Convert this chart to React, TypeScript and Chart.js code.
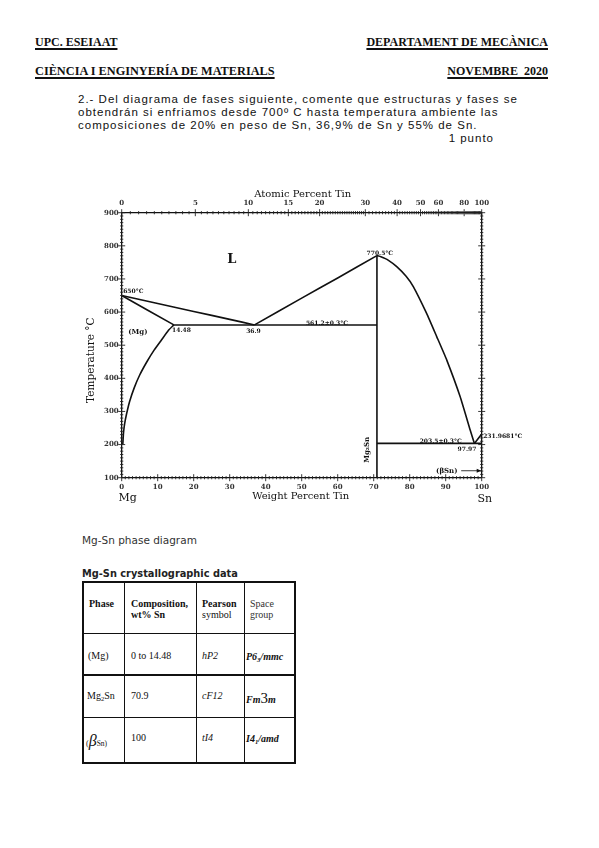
import React, { useEffect, useRef } from "react";
import { Chart, registerables } from "chart.js";
Chart.register(...registerables);

// ---------- data ----------
const MG_MASS = 24.305;
const SN_MASS = 118.71;

const wtPercentTicks = [0, 10, 20, 30, 40, 50, 60, 70, 80, 90, 100];
const temperatureTicks = [100, 200, 300, 400, 500, 600, 700, 800, 900];
const atomicPercentTicks = [0, 5, 10, 15, 20, 30, 40, 50, 60, 80, 100];

// curves: [wt% Sn, °C]
const liquidusMgSide = [[0, 650], [10, 626], [20, 602], [30, 578], [36.9, 561.2]];
const solidusMg = [[0, 650], [14.48, 561.2]];
const solvusMg = [[14.48, 561.2], [13, 545], [11, 515], [9, 485], [7, 450], [5, 410], [3.5, 372], [2.2, 330], [1.3, 290], [0.8, 262], [0.5, 235], [0.3, 200]];
const eutecticMg = [[14.48, 561.2], [70.9, 561.2]];
const liquidusMg2SnLeft = [[36.9, 561.2], [50, 642], [60, 703], [70.9, 770.5]];
const liquidusMg2SnRight = [[70.9, 770.5], [72, 767], [74, 757], [76.4, 737], [79, 708], [81, 677], [84.7, 596], [87.5, 526], [90.3, 455], [94, 345], [96.8, 244], [97.97, 203.5]];
const liquidusSn = [[97.97, 203.5], [100, 231.97]];
const mg2SnLine = [[70.9, 770.5], [70.9, 100]];
const eutecticSn = [[70.9, 203.5], [100, 203.5]];

const curves = [liquidusMgSide, solidusMg, solvusMg, eutecticMg, liquidusMg2SnLeft, liquidusMg2SnRight, liquidusSn, mg2SnLine, eutecticSn];

// labels placed in data coordinates
const labelTexts = ["L", "650°C", "(Mg)", "14.48", "36.9", "561.2±0.3°C", "770.5°C", "203.5±0.3°C", "97.97", "231.9681°C", "(βSn)"];
const labelWt = [30.6, 0.4, 4.5, 16.6, 36.6, 57, 71.7, 88.6, 95.9, 100.4, 90.3];
const labelTemp = [757, 661, 538, 544, 541, 567, 778, 210, 184, 226, 121];

const atToWt = (a: number) => (a * SN_MASS) / (a * SN_MASS + (100 - a) * MG_MASS) * 100;

const decorPlugin = {
  id: "phaseDecor",
  afterDraw(chart: any) {
    const { ctx, chartArea: a, scales } = chart;
    const px = (v: number) => scales.x.getPixelForValue(v);
    const py = (v: number) => scales.y.getPixelForValue(v);
    ctx.save();
    ctx.strokeStyle = "#222";
    ctx.lineWidth = 0.9;
    ctx.beginPath();
    for (let t = 100; t <= 900; t += 10) {
      const yy = py(t);
      const l = t % 100 === 0 ? 3.5 : 1.6;
      ctx.moveTo(a.left - l, yy); ctx.lineTo(a.left + l, yy);
      ctx.moveTo(a.right - l, yy); ctx.lineTo(a.right + l, yy);
    }
    for (let w = 0; w <= 100; w += 1) {
      const xx = px(w);
      const l = w % 10 === 0 ? 3.5 : 1.6;
      ctx.moveTo(xx, a.bottom - l); ctx.lineTo(xx, a.bottom + l);
    }
    for (let at = 0; at <= 100; at += at < 30 ? 0.5 : 1) {
      const xx = px(atToWt(at));
      const major = atomicPercentTicks.includes(at);
      const l = major ? 3.5 : 1.6;
      ctx.moveTo(xx, a.top - l); ctx.lineTo(xx, a.top + l);
    }
    ctx.stroke();

    ctx.fillStyle = "#111";
    ctx.textBaseline = "middle";
    labelTexts.forEach((t, i) => {
      const big = t === "L";
      ctx.font = big ? "bold 13px 'DejaVu Serif'" : (t === "(Mg)" || t === "(βSn)") ? "bold 7px 'DejaVu Serif'" : "bold 6px 'DejaVu Serif'";
      ctx.textAlign = t === "231.9681°C" || t === "650°C" ? "left" : "center";
      ctx.fillText(t, px(labelWt[i]), py(labelTemp[i]));
    });

    // Mg2Sn rotated
    ctx.save();
    ctx.translate(px(68.1), py(184));
    ctx.rotate(-Math.PI / 2);
    ctx.font = "bold 7px 'DejaVu Serif'";
    ctx.textAlign = "center";
    ctx.fillText("Mg₂Sn", 0, 0);
    ctx.restore();

    // arrow for (βSn)
    const ay = py(121);
    ctx.beginPath();
    ctx.moveTo(px(94.3), ay); ctx.lineTo(a.right - 1, ay);
    ctx.stroke();
    ctx.beginPath();
    ctx.moveTo(a.right - 0.5, ay); ctx.lineTo(a.right - 5, ay - 2); ctx.lineTo(a.right - 5, ay + 2); ctx.closePath();
    ctx.fill();

    // axis titles
    ctx.font = "10px 'DejaVu Serif'";
    ctx.textAlign = "center";
    ctx.fillText("Atomic Percent Tin", (a.left + a.right) / 2 + 1, a.top - 18);
    ctx.fillText("Weight Percent Tin", (a.left + a.right) / 2 - 1, a.bottom + 18.5);
    ctx.font = "11px 'DejaVu Serif'";
    ctx.fillText("Mg", a.left + 6, a.bottom + 20);
    ctx.fillText("Sn", a.right + 3, a.bottom + 21);
    ctx.save();
    ctx.translate(a.left - 30, (a.top + a.bottom) / 2 + 15);
    ctx.rotate(-Math.PI / 2);
    ctx.font = "10.5px 'DejaVu Serif'";
    ctx.fillText("Temperature °C", 0, 0);
    ctx.restore();
    ctx.restore();
  },
};

function PhaseChart() {
  const ref = useRef<HTMLCanvasElement>(null);
  useEffect(() => {
    if (!ref.current) return;
    const tickFont = { family: "'DejaVu Serif'", size: 7, weight: "bold" as const };
    const chart = new Chart(ref.current, {
      type: "scatter",
      data: {
        datasets: curves.map((c) => ({
          data: c.map(([x, y]) => ({ x, y })),
          showLine: true,
          pointRadius: 0,
          borderColor: "#111",
          borderWidth: 1.6,
          tension: 0.15,
        })),
      },
      options: {
        responsive: false,
        animation: false,
        layout: { padding: 0 },
        plugins: { legend: { display: false }, tooltip: { enabled: false } },
        scales: {
          x: {
            type: "linear", position: "bottom", min: 0, max: 100,
            afterBuildTicks: (s: any) => { s.ticks = wtPercentTicks.map((v) => ({ value: v })); },
            afterFit: (s: any) => { s.height = 42.3; },
            ticks: { font: tickFont, color: "#333", padding: 5, maxRotation: 0, autoSkip: false },
            grid: { display: true, drawOnChartArea: false, drawTicks: false },
            border: { display: true, color: "#111", width: 1.3 },
          },
          x2: {
            type: "linear", position: "top", min: 0, max: 100,
            afterBuildTicks: (s: any) => { s.ticks = atomicPercentTicks.map((a) => ({ value: atToWt(a) })); },
            afterFit: (s: any) => { s.height = 42.7; },
            ticks: { font: tickFont, color: "#333", padding: 5, maxRotation: 0, autoSkip: false, callback: (_v: any, i: number) => String(atomicPercentTicks[i]) },
            grid: { display: true, drawOnChartArea: false, drawTicks: false },
            border: { display: true, color: "#111", width: 1.3 },
          },
          y: {
            type: "linear", position: "left", min: 100, max: 900,
            afterBuildTicks: (s: any) => { s.ticks = temperatureTicks.map((v) => ({ value: v })); },
            afterFit: (s: any) => { s.width = 81.7; },
            ticks: { font: tickFont, color: "#333", padding: 3 },
            grid: { display: true, drawOnChartArea: false, drawTicks: false },
            border: { display: true, color: "#111", width: 1.3 },
          },
          y2: {
            type: "linear", position: "right", min: 100, max: 900,
            afterFit: (s: any) => { s.width = 98.3; },
            ticks: { display: false },
            grid: { display: true, drawOnChartArea: false, drawTicks: false },
            border: { display: true, color: "#111", width: 1.3 },
          },
        },
      },
      plugins: [decorPlugin],
    } as any);
    return () => chart.destroy();
  }, []);
  return <canvas ref={ref} width={540} height={350} style={{ position: "absolute", left: 40, top: 170, width: 540, height: 350 }} />;
}

type TP = { x: number; y: number; size: number; family?: string; bold?: boolean; italic?: boolean; right?: boolean; color?: string; ls?: number; underline?: boolean; children: React.ReactNode };
function T({ x, y, size, family = "'Liberation Serif'", bold, italic, right, color = "#111", ls = 0, underline, children }: TP) {
  const lh = size * 1.3;
  const style: React.CSSProperties = {
    position: "absolute", top: y - lh / 2, lineHeight: lh + "px", fontSize: size, fontFamily: family,
    fontWeight: bold ? 700 : 400, fontStyle: italic ? "italic" : "normal", color, whiteSpace: "pre", letterSpacing: ls,
    textDecoration: underline ? "underline" : "none", textDecorationThickness: underline ? "1.5px" : undefined, textUnderlineOffset: underline ? "2px" : undefined,
  };
  if (right) style.right = 599 - x; else style.left = x;
  return <div style={style}>{children}</div>;
}

const tableXs = [83.3, 124.3, 196.7, 244.3, 295];
const tableYs = [582, 633.3, 675, 717.3, 763];

function Table() {
  const lines: React.ReactNode[] = [];
  tableXs.forEach((x, i) => {
    const w = i === 0 || i === tableXs.length - 1 ? 2 : 1.5;
    lines.push(<div key={"v" + i} style={{ position: "absolute", left: x - w / 2, top: tableYs[0] - 1, width: w, height: tableYs[4] - tableYs[0] + 2, background: "#111" }} />);
  });
  tableYs.forEach((y, i) => {
    const w = i === 0 || i === tableYs.length - 1 ? 2 : 1.5;
    lines.push(<div key={"h" + i} style={{ position: "absolute", top: y - w / 2, left: tableXs[0] - 1, height: w, width: tableXs[4] - tableXs[0] + 2, background: "#111" }} />);
  });
  const sub = (s: string) => <span style={{ fontSize: "0.65em", verticalAlign: "-0.25em" }}>{s}</span>;
  return (
    <>
      {lines}
      <T x={89} y={603} size={10} bold>Phase</T>
      <T x={131} y={603} size={10} bold>Composition,</T>
      <T x={131} y={614} size={10} bold>wt% Sn</T>
      <T x={202} y={603} size={10} bold>Pearson</T>
      <T x={202} y={614} size={10}>symbol</T>
      <T x={250} y={603} size={10} color="#333">Space</T>
      <T x={250} y={614} size={10} color="#333">group</T>

      <T x={88} y={655} size={10}>(Mg)</T>
      <T x={131} y={655} size={10}>0 to 14.48</T>
      <T x={202} y={655} size={10} italic>hP2</T>
      <T x={246} y={656} size={10} bold italic>P6{sub("3")}/mmc</T>

      <T x={87} y={695} size={10}>Mg{sub("2")}Sn</T>
      <T x={131} y={695} size={10}>70.9</T>
      <T x={202} y={695} size={10} italic>cF12</T>
      <T x={246} y={698} size={10} bold italic>Fm<span style={{ fontSize: 15, fontStyle: "normal", fontWeight: 400 }}>3</span>m</T>

      <T x={86} y={740} size={10}><span style={{ fontSize: 8 }}>(</span><span style={{ fontSize: 16, fontStyle: "italic" }}>β</span><span style={{ fontSize: 7.5 }}>Sn)</span></T>
      <T x={131} y={737} size={10}>100</T>
      <T x={202} y={737} size={10} italic>tI4</T>
      <T x={246} y={738} size={10} bold italic>I4{sub("1")}/amd</T>
    </>
  );
}

export default function App() {
  return (
    <div style={{ position: "absolute", left: 0, top: 0, width: 599, height: 848, background: "#fff", overflow: "hidden" }}>
      <T x={35} y={43} size={12} bold underline>UPC. ESEIAAT</T>
      <T x={548} y={43} size={12} bold underline right>DEPARTAMENT DE MECÀNICA</T>
      <T x={35} y={72} size={12.3} bold underline>CIÈNCIA I ENGINYERÍA DE MATERIALS</T>
      <T x={548} y={72} size={12} bold underline right>NOVEMBRE  2020</T>

      <T x={78} y={99.5} size={11.5} family="'Liberation Sans'" ls={1.0}>2.- Del diagrama de fases siguiente, comente que estructuras y fases se</T>
      <T x={78} y={112.3} size={11.5} family="'Liberation Sans'" ls={1.0}>obtendrán si enfriamos desde 700º C hasta temperatura ambiente las</T>
      <T x={78} y={125} size={11.5} family="'Liberation Sans'" ls={1.0}>composiciones de 20% en peso de Sn, 36,9% de Sn y 55% de Sn.</T>
      <T x={494} y={138.3} size={11.5} family="'Liberation Sans'" ls={1.0} right>1 punto</T>

      <PhaseChart />

      <T x={82} y={541} size={10.5} family="'DejaVu Sans'" color="#333">Mg-Sn phase diagram</T>
      <T x={82} y={574} size={9.8} family="'DejaVu Sans'" bold color="#222">Mg-Sn crystallographic data</T>
      <Table />
    </div>
  );
}
